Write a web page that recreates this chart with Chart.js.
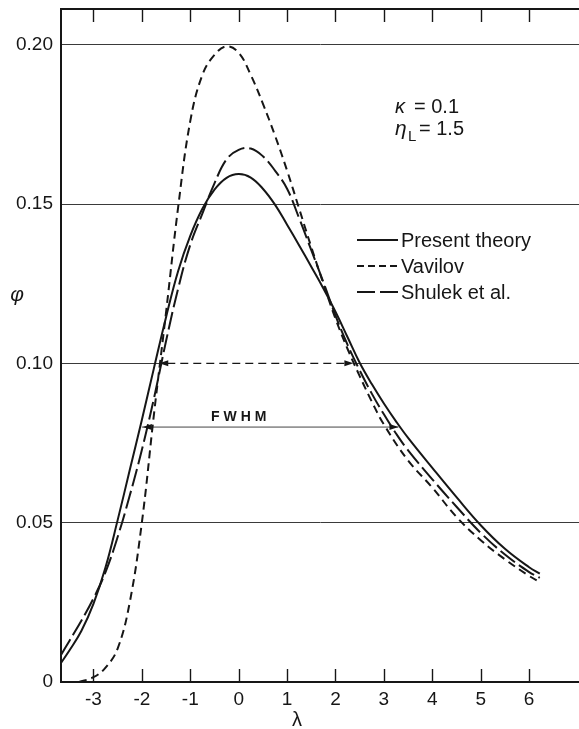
<!DOCTYPE html>
<html>
<head>
<meta charset="utf-8">
<script src="https://cdn.jsdelivr.net/npm/chart.js@4/dist/chart.umd.min.js"></script>
<style>
  html, body { margin: 0; padding: 0; background: #fff; overflow: hidden; }
  #wrap { width: 579px; height: 729px; }
</style>
</head>
<body>
<div id="wrap"><canvas id="c" width="579" height="729"></canvas></div>
<script>
// Energy-loss straggling distributions phi(lambda), kappa = 0.1, eta_L = 1.5
const lambdaGrid = [-3.67, -3.5, -3.25, -3.0, -2.75, -2.5, -2.25, -2.0, -1.75, -1.5, -1.25, -1.0,
  -0.75, -0.5, -0.25, 0, 0.25, 0.5, 0.75, 1.0, 1.25, 1.5, 1.75, 2.0, 2.25, 2.5, 2.75, 3.0, 3.25,
  3.5, 4.0, 4.5, 5.0, 5.5, 6.0, 6.22];

const presentTheory = [0.0060, 0.0098, 0.0160, 0.0245, 0.0360, 0.0508, 0.0665, 0.0822, 0.0985,
  0.1145, 0.1290, 0.1400, 0.1485, 0.1545, 0.1582, 0.1594, 0.1583, 0.1548, 0.1498, 0.1435, 0.1370,
  0.1303, 0.1235, 0.1162, 0.1082, 0.1002, 0.0935, 0.0874, 0.0818, 0.0766, 0.0672, 0.0580, 0.0492,
  0.0418, 0.0360, 0.0340];

const shulek = [0.0085, 0.0128, 0.0192, 0.0262, 0.0345, 0.0455, 0.0585, 0.0728, 0.0890, 0.1070,
  0.1235, 0.1372, 0.1470, 0.1565, 0.1640, 0.1670, 0.1674, 0.1650, 0.1605, 0.1548, 0.1455, 0.1355,
  0.1255, 0.1150, 0.1058, 0.0978, 0.0905, 0.0840, 0.0780, 0.0727, 0.0636, 0.0550, 0.0468, 0.0400,
  0.0345, 0.0327];

const vavilovLambda = [-3.3, -3.0, -2.75, -2.5, -2.25, -2.0, -1.75, -1.5, -1.25, -1.0, -0.75, -0.5,
  -0.25, 0, 0.25, 0.5, 0.75, 1.0, 1.25, 1.5, 1.75, 2.0, 2.25, 2.5, 2.75, 3.0, 3.5, 4.0, 4.5, 5.0,
  5.5, 6.0, 6.22];

const vavilov = [0.0, 0.0015, 0.0045, 0.0105, 0.0250, 0.0500, 0.0840, 0.1160, 0.1490, 0.1760,
  0.1905, 0.1968, 0.1995, 0.1975, 0.1905, 0.1815, 0.1715, 0.1605, 0.1485, 0.1365, 0.1250, 0.1140,
  0.1045, 0.0960, 0.0880, 0.0808, 0.0695, 0.0610, 0.0518, 0.0445, 0.0385, 0.0333, 0.0314];

// full width at half maximum markers: Vavilov (dashed), present theory (solid)
const halfMaxLevels = [0.10, 0.08];
const halfMaxLeft = [-1.64, -2.0];
const halfMaxRight = [2.37, 3.30];

const xTickValues = [-3, -2, -1, 0, 1, 2, 3, 4, 5, 6];
const xTickLabels = ['-3', '-2', '-1', '0', '1', '2', '3', '4', '5', '6'];
const yTickValues = [0, 0.05, 0.10, 0.15, 0.20];
const yTickLabels = ['0', '0.05', '0.10', '0.15', '0.20'];

const seriesNames = ['Present theory', 'Vavilov', 'Shulek et al.'];

const INK = '#161616';
const FAMILY = '"Liberation Sans", Arial, sans-serif';

const toPoints = (xs, ys) => xs.map((v, i) => ({ x: v, y: ys[i] }));

function strokeLine(ctx, x1, y1, x2, y2) {
  ctx.beginPath(); ctx.moveTo(x1, y1); ctx.lineTo(x2, y2); ctx.stroke();
}
function arrowHead(ctx, x, y, dir) {
  ctx.beginPath();
  ctx.moveTo(x, y);
  ctx.lineTo(x - dir * 9, y - 3);
  ctx.lineTo(x - dir * 9, y + 3);
  ctx.closePath();
  ctx.fill();
}

const decor = {
  id: 'decor',
  beforeDatasetsDraw(chart) {
    const { ctx, chartArea: a, scales: { x, y } } = chart;
    ctx.save();
    ctx.strokeStyle = INK;
    ctx.fillStyle = INK;

    // top frame line
    ctx.lineWidth = 2;
    strokeLine(ctx, a.left, a.top, a.right, a.top);

    // inward tick marks on bottom and top edges
    ctx.lineWidth = 1.4;
    xTickValues.forEach(v => {
      const px = Math.round(x.getPixelForValue(v)) + 0.5;
      strokeLine(ctx, px, a.bottom, px, a.bottom - 13);
      strokeLine(ctx, px, a.top, px, a.top + 13);
    });

    // FWHM of the Vavilov curve: dashed double arrow replacing the grid line
    const y0 = y.getPixelForValue(halfMaxLevels[0]);
    const l0 = x.getPixelForValue(halfMaxLeft[0]);
    const r0 = x.getPixelForValue(halfMaxRight[0]);
    ctx.fillStyle = '#fff';
    ctx.fillRect(l0, y0 - 2, r0 - l0, 4);
    ctx.fillStyle = INK;
    ctx.lineWidth = 1.2;
    ctx.setLineDash([8, 5]);
    strokeLine(ctx, l0 + 8, y0, r0 - 8, y0);
    ctx.setLineDash([]);
    arrowHead(ctx, l0, y0, -1);
    arrowHead(ctx, r0, y0, 1);

    // FWHM of the present theory: solid double arrow
    const y1 = y.getPixelForValue(halfMaxLevels[1]);
    const l1 = x.getPixelForValue(halfMaxLeft[1]);
    const r1 = x.getPixelForValue(halfMaxRight[1]);
    ctx.strokeStyle = '#444';
    ctx.lineWidth = 1;
    strokeLine(ctx, l1, y1, r1, y1);
    arrowHead(ctx, l1 + 1, y1, -1);
    arrowHead(ctx, r1, y1, 1);
    ctx.restore();
  },
  afterDatasetsDraw(chart) {
    const { ctx, scales: { x, y } } = chart;
    ctx.save();
    ctx.fillStyle = INK;
    ctx.strokeStyle = INK;

    // legend
    const legendLeft = 357, legendRight = 398, textX = 401;
    const baselines = [247, 273, 299];
    ctx.font = '20px ' + FAMILY;
    ctx.textBaseline = 'alphabetic';
    ctx.textAlign = 'left';
    const dashes = [[], [7, 4], [18, 5]];
    seriesNames.forEach((name, i) => {
      const ly = baselines[i] - 7;
      ctx.lineWidth = 2;
      ctx.setLineDash(dashes[i]);
      strokeLine(ctx, legendLeft, ly, legendRight, ly);
      ctx.setLineDash([]);
      ctx.fillText(name, textX, baselines[i]);
    });

    // parameters
    ctx.font = 'italic 20px ' + FAMILY;
    ctx.fillText('\u03BA', 395, 113);
    ctx.font = '20px ' + FAMILY;
    ctx.fillText('= 0.1', 414, 113);
    ctx.font = 'italic 21px ' + FAMILY;
    ctx.fillText('\u03B7', 395, 135);
    ctx.font = '15px ' + FAMILY;
    ctx.fillText('L', 408, 141);
    ctx.font = '20px ' + FAMILY;
    ctx.fillText('= 1.5', 419, 135);

    // FWHM caption
    ctx.font = 'bold 14px ' + FAMILY;
    const word = 'FWHM';
    const gap = 4;
    const widths = [...word].map(c => ctx.measureText(c).width);
    const total = widths.reduce((s, w) => s + w, 0) + gap * (word.length - 1);
    let cx = x.getPixelForValue(0) - total / 2;
    [...word].forEach((c, i) => { ctx.fillText(c, cx, 421); cx += widths[i] + gap; });

    // axis symbols
    ctx.textAlign = 'center';
    ctx.font = 'italic 21px ' + FAMILY;
    ctx.fillText('\u03C6', 17, 301);
    ctx.font = '20px ' + FAMILY;
    ctx.fillText('\u03BB', 297, 726);
    ctx.restore();
  }
};

const lineStyle = { borderColor: INK, borderWidth: 2, pointRadius: 0, fill: false, tension: 0.4 };

new Chart(document.getElementById('c'), {
  type: 'line',
  data: {
    datasets: [
      { label: seriesNames[0], data: toPoints(lambdaGrid, presentTheory), ...lineStyle },
      { label: seriesNames[1], data: toPoints(vavilovLambda, vavilov), ...lineStyle, borderDash: [8, 5] },
      { label: seriesNames[2], data: toPoints(lambdaGrid, shulek), ...lineStyle, borderDash: [18, 5] }
    ]
  },
  options: {
    responsive: false,
    animation: false,
    layout: { padding: { top: 9, right: 0, bottom: 0, left: 0 } },
    plugins: { legend: { display: false }, tooltip: { enabled: false } },
    scales: {
      x: {
        type: 'linear',
        min: -3.67,
        max: 7.03,
        afterBuildTicks: s => { s.ticks = xTickValues.map(v => ({ value: v })); },
        afterFit: s => { s.height = 47; s.paddingLeft = 0; s.paddingRight = 0; },
        grid: { display: false, drawTicks: false },
        border: { display: true, color: INK, width: 2 },
        ticks: {
          autoSkip: false, maxRotation: 0, padding: 6, color: INK,
          font: { family: FAMILY, size: 19 },
          callback: (v, i) => xTickLabels[i]
        }
      },
      y: {
        type: 'linear',
        min: 0,
        max: 0.2112,
        afterBuildTicks: s => { s.ticks = yTickValues.map(v => ({ value: v })); },
        afterFit: s => { s.width = 61; s.paddingTop = 0; s.paddingBottom = 0; },
        grid: { color: '#3a3a3a', lineWidth: 1, drawTicks: false },
        border: { display: true, color: INK, width: 2 },
        ticks: {
          padding: 8, color: INK,
          font: { family: FAMILY, size: 19 },
          callback: (v, i) => yTickLabels[i]
        }
      }
    }
  },
  plugins: [decor]
});
</script>
</body>
</html>
